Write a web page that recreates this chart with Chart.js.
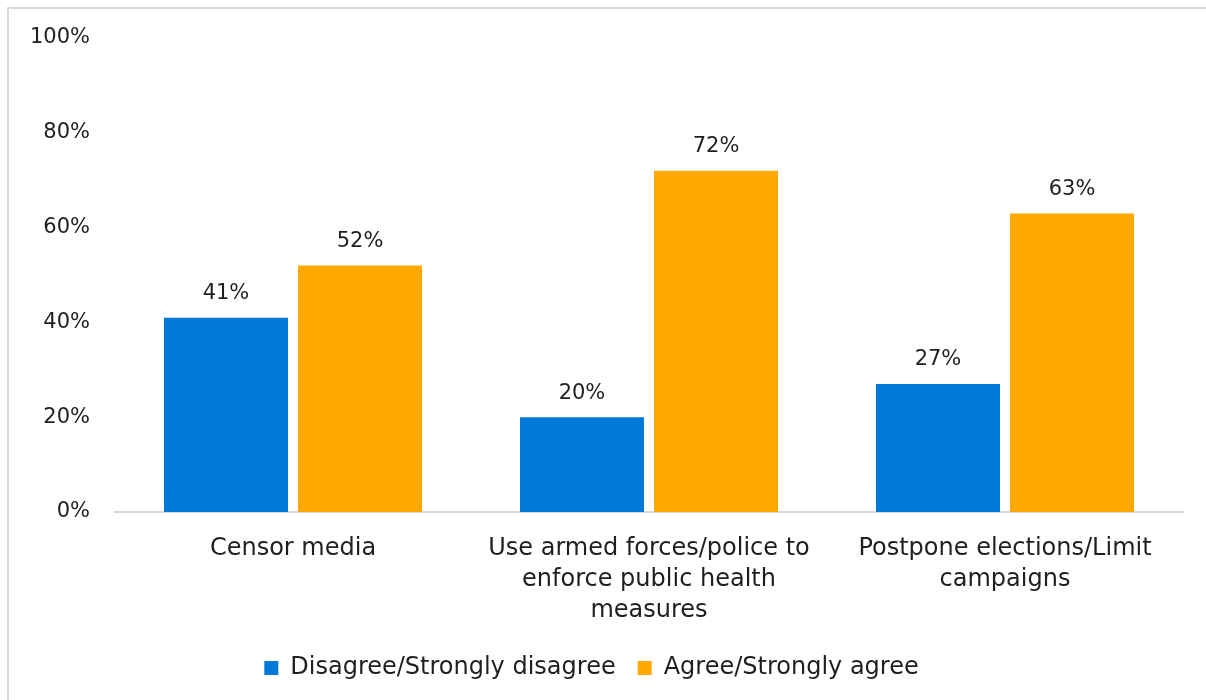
<!DOCTYPE html>
<html>
<head>
<meta charset="utf-8">
<script src="https://cdn.jsdelivr.net/npm/chart.js@4/dist/chart.umd.min.js"></script>
<style>
  html, body { margin: 0; padding: 0; background: #fff; }
  #wrap { position: relative; width: 1206px; height: 700px; overflow: hidden; }
  #frame { position: absolute; left: 7px; top: 7px; width: 1210px; height: 710px;
           border: 2px solid #d9d9d9; box-sizing: border-box; }
  #chart { position: absolute; left: 0; top: 0; }
</style>
</head>
<body>
<div id="wrap">
  <div id="frame"></div>
  <canvas id="chart" width="1206" height="700"></canvas>
</div>
<script>
// categories (multi-line labels as shown under the axis)
const categories = [
  ['Censor media'],
  ['Use armed forces/police to', 'enforce public health', 'measures'],
  ['Postpone elections/Limit', 'campaigns']
];
const seriesNames = ['Disagree/Strongly disagree', 'Agree/Strongly agree'];
const disagreeValues = [41, 20, 27];
const agreeValues = [52, 72, 63];
const yTicks = [0, 20, 40, 60, 80, 100];

const COLORS = {
  blue: '#0078d7',
  orange: '#ffa800',
  text: '#1f1f1f',
  line: '#d9d9d9'
};
const FONT = "'DejaVu Sans', sans-serif";

// simple value labels above each bar
const barLabels = {
  id: 'barLabels',
  afterDatasetsDraw(chart) {
    const ctx = chart.ctx;
    ctx.save();
    ctx.font = '21px ' + FONT;
    ctx.fillStyle = COLORS.text;
    ctx.textAlign = 'center';
    ctx.textBaseline = 'middle';
    chart.data.datasets.forEach((ds, i) => {
      chart.getDatasetMeta(i).data.forEach((bar, j) => {
        ctx.fillText(ds.data[j] + '%', bar.x, bar.y - 24);
      });
    });
    ctx.restore();
  }
};

new Chart(document.getElementById('chart'), {
  type: 'bar',
  data: {
    labels: categories,
    datasets: [
      { label: seriesNames[0], data: disagreeValues, backgroundColor: COLORS.blue },
      { label: seriesNames[1], data: agreeValues, backgroundColor: COLORS.orange }
    ]
  },
  options: {
    responsive: false,
    animation: false,
    categoryPercentage: 0.753,
    barPercentage: 0.925,
    layout: { padding: { top: 38, right: 23, left: 0, bottom: 10 } },
    scales: {
      x: {
        grid: { display: false, drawTicks: false },
        border: { display: true, color: COLORS.line, width: 2 },
        ticks: { color: COLORS.text, font: { family: FONT, size: 24, lineHeight: 1.3 }, padding: 21, maxRotation: 0 },
        afterFit(scale) { scale.height = 122; }
      },
      y: {
        min: 0, max: 100,
        afterBuildTicks(scale) { scale.ticks = yTicks.map(v => ({ value: v })); },
        grid: { display: false, drawTicks: false },
        border: { display: false },
        ticks: { color: COLORS.text, font: { family: FONT, size: 21 }, padding: 25,
                 callback: v => v + '%' },
        afterFit(scale) { scale.width = 115; }
      }
    },
    plugins: {
      legend: {
        position: 'bottom',
        labels: { color: COLORS.text, font: { family: FONT, size: 24 }, boxWidth: 14, boxHeight: 14, padding: 22 }
      },
      tooltip: { enabled: false }
    }
  },
  plugins: [barLabels]
});
</script>
</body>
</html>
